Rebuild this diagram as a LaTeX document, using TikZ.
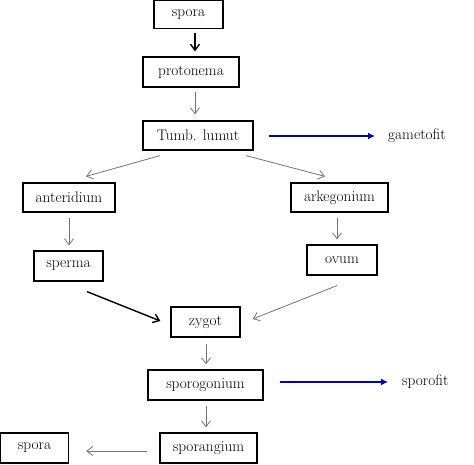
\documentclass[tikz,border=0pt]{standalone}
\usetikzlibrary{arrows.meta,calc}
\begin{document}
\begin{tikzpicture}[x=1pt,y=-1pt,
  box/.style={draw=black,line width=1.2pt,inner sep=0pt,font=\rmfamily\fontsize{15.3}{17}\selectfont},
  lbl/.style={inner sep=0pt,anchor=west,font=\rmfamily\fontsize{15.3}{17}\selectfont},
  garrow/.style={draw=black!55,line width=0.8pt,-{Straight Barb[length=6pt,width=9pt]}},
  barrow/.style={draw=black,line width=1.4pt,-{Straight Barb[length=6pt,width=9pt]}},
  bluearrow/.style={draw=blue!75!black,line width=1.3pt,-{Latex[length=7pt,width=7pt]}}]
\useasboundingbox (0,0) rectangle (474,464);
\node[box,minimum width=69pt,minimum height=28pt] (spora) at (188.5,14.5) {spora};
\node[box,minimum width=96pt,minimum height=30pt] (protonema) at (191,72) {protonema};
\node[box,minimum width=110pt,minimum height=29pt] (tumb) at (198,135.5) {Tumb. lumut};
\node[box,minimum width=92pt,minimum height=29pt] (anteridium) at (69,197.5) {anteridium};
\node[box,minimum width=97pt,minimum height=29pt] (arkegonium) at (339.5,197.5) {arkegonium};
\node[box,minimum width=69pt,minimum height=30pt] (sperma) at (68.5,266) {sperma};
\node[box,minimum width=70pt,minimum height=30pt] (ovum) at (342,260) {ovum};
\node[box,minimum width=69pt,minimum height=30pt] (zygot) at (205.5,322) {zygot};
\node[box,minimum width=115pt,minimum height=30pt] (sporogonium) at (205.5,385) {sporogonium};
\node[box,minimum width=97pt,minimum height=30pt] (sporangium) at (208.5,448) {sporangium};
\node[box,minimum width=68pt,minimum height=30pt] (spora2) at (34.5,448) {spora};
\node[lbl] (gametofit) at (388,136) {gametofit};
\node[lbl] (sporofit) at (402,382) {sporofit};

\draw[barrow] ($(spora.south)+(6.5,4)$) -- ($(protonema.north)+(4,-5)$);
\draw[garrow] ($(protonema.south)+(4,4)$) -- ($(tumb.north)+(-3,-6)$);
\draw[garrow] ($(tumb.south)+(-38,5)$) -- ($(anteridium.north)+(17,-6)$);
\draw[garrow] ($(tumb.south)+(48,5)$) -- ($(arkegonium.north)+(-14.5,-6)$);
\draw[garrow] ($(anteridium.south)+(0,5)$) -- ($(sperma.north)+(0.5,-5)$);
\draw[garrow] ($(arkegonium.south)+(-2.5,5)$) -- ($(ovum.north)+(-5,-5)$);
\draw[barrow] ($(sperma.south)+(18.5,10)$) -- ($(zygot.west)+(-10,-1)$);
\draw[garrow] ($(ovum.south)+(-5,10)$) -- ($(zygot.east)+(12,-3)$);
\draw[garrow] ($(zygot.south)+(0.5,6)$) -- ($(sporogonium.north)+(0.5,-5)$);
\draw[garrow] ($(sporogonium.south)+(0.5,5)$) -- ($(sporangium.north)+(-2.5,-5)$);
\draw[garrow] ($(sporangium.west)+(-12,3)$) -- ($(spora2.east)+(17,3)$);
\draw[bluearrow] ($(tumb.east)+(15,0.5)$) -- ($(gametofit.west)+(-13,0)$);
\draw[bluearrow] ($(sporogonium.east)+(16,-3)$) -- ($(sporofit.west)+(-14,0)$);
\end{tikzpicture}
\end{document}
